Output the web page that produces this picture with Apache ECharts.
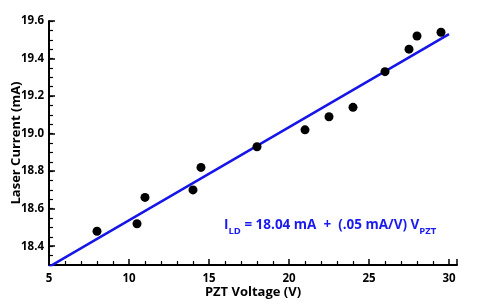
<!DOCTYPE html>
<html><head><meta charset="utf-8">
<script src="https://cdn.jsdelivr.net/npm/echarts@6/dist/echarts.min.js"></script>
<style>html,body{margin:0;padding:0;background:#fff}#c{width:479px;height:308px}</style>
</head><body><div id="c"></div>
<script>
const pztVoltage = [8, 10.5, 11, 14, 14.5, 18, 21, 22.5, 24, 26, 27.5, 28, 29.5];
const laserCurrent = [18.48, 18.52, 18.66, 18.70, 18.82, 18.93, 19.02, 19.09, 19.14, 19.33, 19.45, 19.52, 19.54];
const fitX = [5, 30];
const fitY = [18.29, 19.53];
const yTickLabels = [18.4, 18.6, 18.8, 19.0, 19.2, 19.4, 19.6];
const xTickLabels = [5, 10, 15, 20, 25, 30];

const FONT = '"Open Sans", sans-serif';
const chart = echarts.init(document.getElementById('c'), null, {renderer: 'canvas'});
const axisLine = {show: true, lineStyle: {color: '#000', width: 2}};
chart.setOption({
  animation: false,
  grid: {left: 49, right: 22, top: 21, bottom: 43, containLabel: false, outerBoundsMode: 'none'},
  xAxis: [{
    type: 'value', min: 5, max: 30.5, interval: 5,
    axisLine: axisLine,
    axisTick: {show: true, inside: true, length: 6, lineStyle: {color: '#000', width: 1.5}},
    minorTick: {show: true, splitNumber: 5, length: 4, lineStyle: {color: '#000', width: 1.2}},
    splitLine: {show: false},
    axisLabel: {customValues: xTickLabels, color: '#000', fontWeight: 'bold', fontSize: 11.5, fontFamily: FONT, margin: 8},
    name: 'PZT Voltage (V)', nameLocation: 'middle', nameGap: 21, nameMoveOverlap: false,
    nameTextStyle: {color: '#000', fontWeight: 'bold', fontSize: 13, fontFamily: FONT}
  }],
  yAxis: [{
    type: 'value', min: 18.3, max: 19.6, interval: 0.05,
    axisLine: axisLine,
    axisTick: {show: true, inside: true, length: 4, lineStyle: {color: '#000', width: 1.2}},
    splitLine: {show: false},
    axisLabel: {customValues: yTickLabels, formatter: v => v.toFixed(1), color: '#000', fontWeight: 'bold', fontSize: 11.5, fontFamily: FONT, margin: 5},
    name: 'Laser Current (mA)', nameLocation: 'middle', nameGap: 26, nameMoveOverlap: false,
    nameTextStyle: {color: '#000', fontWeight: 'bold', fontSize: 13, fontFamily: FONT}
  }, {
    type: 'value', min: 18.3, max: 19.6, position: 'left', offset: 0,
    axisLine: {show: false},
    axisTick: {show: true, inside: true, length: 6, customValues: yTickLabels, lineStyle: {color: '#000', width: 1.5}},
    axisLabel: {show: false},
    splitLine: {show: false}
  }],
  series: [{
    type: 'line', data: fitX.map((x, i) => [x, fitY[i]]), showSymbol: false,
    lineStyle: {color: '#1515e8', width: 2.5}, z: 2
  }, {
    type: 'scatter', data: pztVoltage.map((x, i) => [x, laserCurrent[i]]),
    symbolSize: 9, itemStyle: {color: '#000', opacity: 1}, z: 3
  }],
  graphic: [{
    type: 'text', left: 224, top: 218,
    style: {
      text: '{a|I}{s|LD}{a| = 18.04 mA  +  (.05 mA/V) V}{s|PZT}',
      rich: {
        a: {fill: '#1a1aee', fontWeight: 'bold', fontSize: 13.5, fontFamily: FONT, verticalAlign: 'bottom', lineHeight: 20},
        s: {fill: '#1a1aee', fontWeight: 'bold', fontSize: 9.5, fontFamily: FONT, verticalAlign: 'bottom', lineHeight: 20, padding: [0,0,-4,0]}
      }
    }
  }]
});
</script></body></html>
